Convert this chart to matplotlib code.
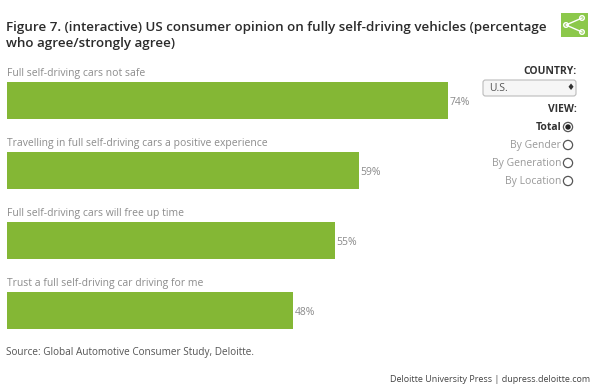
import matplotlib
matplotlib.use("Agg")
import matplotlib.pyplot as plt
from matplotlib.patches import Circle, FancyBboxPatch, Rectangle

categorias = [
    "Full self-driving cars not safe",
    "Travelling in full self-driving cars a positive experience",
    "Full self-driving cars will free up time",
    "Trust a full self-driving car driving for me",
]
valores = [74, 59, 55, 48]
opciones_vista = ["Total", "By Gender", "By Generation", "By Location"]

plt.rcParams["font.family"] = ["Open Sans", "DejaVu Sans"]

VERDE = "#84b735"
W, H = 600, 391

fig = plt.figure(figsize=(W / 100, H / 100), dpi=100, facecolor="white")

# capa en pixeles para textos y controles
capa = fig.add_axes([0, 0, 1, 1])
capa.set_xlim(0, W)
capa.set_ylim(H, 0)
capa.axis("off")

capa.text(6, 27, "Figure 7. (interactive) US consumer opinion on fully self-driving vehicles (percentage",
          fontsize=9.6, fontweight="semibold", color="#2b2b2b", va="center")
capa.text(6, 44, "who agree/strongly agree)",
          fontsize=9.6, fontweight="semibold", color="#2b2b2b", va="center")

# barras
top, bottom = 82, 329
alto = 37 / 70
ax = fig.add_axes([7 / W, 1 - bottom / H, 596 / W, (bottom - top) / H])
ax.set_xlim(0, 100)
posiciones = list(range(len(valores)))
ax.barh(posiciones, valores, height=alto, color=VERDE)
ax.set_ylim(len(valores) - 1 + alto / 2, -alto / 2)
ax.axis("off")
ax.patch.set_alpha(0)

for pos, val, cat in zip(posiciones, valores, categorias):
    ax.annotate(f"{val}%", (val, pos), xytext=(1, -1.2), textcoords="offset points",
                fontsize=7.5, color="#8a8a8a", va="center")
    ax.annotate(cat, (0, pos - alto / 2), xytext=(0, 2), textcoords="offset points",
                fontsize=7.5, color="#8c8c8c", va="bottom")

capa.text(6, 353, "Source: Global Automotive Consumer Study, Deloitte.",
          fontsize=7.2, color="#555555", va="center")
capa.text(590, 379, "Deloitte University Press | dupress.deloitte.com",
          fontsize=6.5, color="#444444", va="center", ha="right")

# boton compartir
capa.add_patch(Rectangle((561, 13), 27, 24, color="#8cc84b", lw=0))
nodos = [(566, 25), (582, 18), (582, 32)]
capa.plot([nodos[1][0], nodos[0][0], nodos[2][0]], [nodos[1][1], nodos[0][1], nodos[2][1]],
          color="white", lw=1)
for n in nodos:
    capa.add_patch(Circle(n, 2.3, fc="#8cc84b", ec="white", lw=1))

# controles
capa.text(577, 72, "COUNTRY:", fontsize=7.5, fontweight="bold", color="#333333", ha="right", va="center")
capa.add_patch(FancyBboxPatch((483, 80), 93, 16, boxstyle="round,pad=0,rounding_size=2.5",
                              fc="#f6f6f6", ec="#bbbbbb", lw=0.8))
capa.text(489, 88.5, "U.S.", fontsize=7.5, color="#555555", va="center")
capa.text(571, 88, "\u2666", fontsize=6.5, color="#333333", ha="center", va="center")
capa.text(577, 109, "VIEW:", fontsize=7.5, fontweight="bold", color="#333333", ha="right", va="center")

for i, opcion in enumerate(opciones_vista):
    y = 127 + i * 18
    activo = i == 0
    capa.text(561, y + 0.5, opcion, fontsize=7.5, ha="right", va="center",
              fontweight="bold" if activo else "normal",
              color="#333333" if activo else "#999999")
    capa.add_patch(Circle((568, y), 4.6, fc="white", ec="#555555", lw=0.9))
    if activo:
        capa.add_patch(Circle((568, y), 2.7, fc="#222222", lw=0))

fig.savefig("out.png", dpi=100)
